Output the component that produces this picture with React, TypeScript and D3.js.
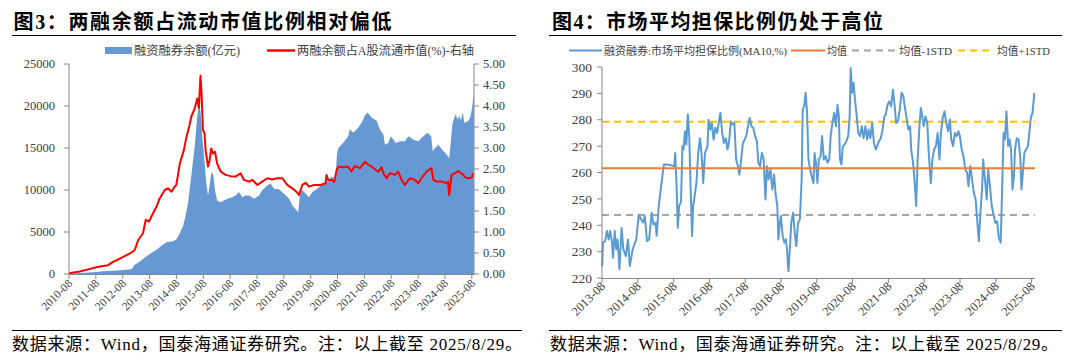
import React from "react";
import * as d3 from "d3";

// ---------- Left chart data ----------
const leftYearTicks = [2010, 2011, 2012, 2013, 2014, 2015, 2016, 2017, 2018, 2019, 2020, 2021, 2022, 2023, 2024, 2025];
const leftTicksBalance = [0, 5000, 10000, 15000, 20000, 25000];
const leftTicksRatio = [0, 0.5, 1, 1.5, 2, 2.5, 3, 3.5, 4, 4.5, 5];

// [decimal year, 融资融券余额(亿元)]
const marginBalance: [number, number][] = [
  [2010.58, 50], [2010.98, 120], [2011.3, 180], [2011.6, 240], [2011.85, 330], [2012.22, 400],
  [2012.6, 480], [2012.91, 560], [2013.03, 1090], [2013.22, 1490], [2013.47, 2100], [2013.65, 2500],
  [2013.84, 2900], [2014.09, 3500], [2014.21, 3790], [2014.46, 3900], [2014.58, 4100], [2014.7, 4800],
  [2014.83, 5700], [2014.93, 7000], [2015.02, 8550], [2015.14, 11770], [2015.27, 15400], [2015.36, 18800],
  [2015.42, 20000], [2015.48, 19400], [2015.55, 16200], [2015.61, 14200], [2015.69, 10970], [2015.76, 9350],
  [2015.82, 10560], [2015.89, 12180], [2015.96, 11770], [2016.02, 9960], [2016.1, 8750], [2016.23, 8550],
  [2016.35, 8750], [2016.48, 8950], [2016.66, 9150], [2016.79, 9350], [2016.91, 9760], [2017.04, 9150],
  [2017.16, 9350], [2017.29, 9350], [2017.47, 8950], [2017.66, 9350], [2017.78, 9960], [2017.97, 10560],
  [2018.09, 10770], [2018.22, 10160], [2018.4, 10080], [2018.59, 9560], [2018.78, 8950], [2018.9, 8150],
  [2019.02, 7740], [2019.12, 7340], [2019.19, 9760], [2019.27, 9960], [2019.4, 9560], [2019.52, 9150],
  [2019.65, 9760], [2019.83, 10160], [2020.02, 10770], [2020.2, 11000], [2020.36, 11570], [2020.51, 11370],
  [2020.56, 14190], [2020.61, 15000], [2020.79, 15600], [2020.98, 16410], [2021.04, 17220], [2021.17, 16810],
  [2021.35, 17420], [2021.48, 18020], [2021.6, 18830], [2021.7, 19230], [2021.85, 18630], [2022.04, 18230],
  [2022.16, 17220], [2022.29, 16610], [2022.35, 15400], [2022.47, 15600], [2022.57, 16410], [2022.66, 16000],
  [2022.75, 15600], [2022.91, 15810], [2023.09, 15810], [2023.22, 16410], [2023.4, 16000], [2023.59, 15810],
  [2023.78, 16410], [2023.94, 16810], [2024.07, 16410], [2024.13, 14600], [2024.21, 15000], [2024.34, 15400],
  [2024.48, 14800], [2024.65, 14190], [2024.74, 13790], [2024.79, 15400], [2024.86, 17800], [2024.93, 18600],
  [2024.98, 19000], [2025.06, 18400], [2025.11, 18800], [2025.18, 18300], [2025.25, 19300], [2025.3, 18000],
  [2025.38, 18100], [2025.45, 18200], [2025.52, 18600], [2025.58, 19500], [2025.62, 20500], [2025.66, 21500],
];

// [decimal year, 两融余额占A股流通市值(%)]
const marginRatio: [number, number][] = [
  [2010.58, 0.02], [2010.98, 0.06], [2011.3, 0.11], [2011.6, 0.16], [2011.85, 0.19], [2012.04, 0.21],
  [2012.22, 0.29], [2012.4, 0.34], [2012.6, 0.41], [2012.91, 0.51], [2013.03, 0.57], [2013.16, 0.81],
  [2013.34, 0.97], [2013.44, 1.29], [2013.56, 1.25], [2013.71, 1.44], [2013.84, 1.6], [2013.96, 1.8],
  [2014.15, 2.0], [2014.27, 2.04], [2014.4, 1.96], [2014.52, 2.08], [2014.58, 2.12], [2014.71, 2.63],
  [2014.86, 2.95], [2014.96, 3.27], [2015.06, 3.51], [2015.14, 3.75], [2015.27, 3.95], [2015.36, 4.18],
  [2015.42, 3.95], [2015.48, 4.72], [2015.52, 4.3], [2015.57, 3.43], [2015.63, 3.35], [2015.67, 2.95],
  [2015.76, 2.56], [2015.82, 2.71], [2015.88, 2.99], [2015.94, 2.87], [2016.02, 2.91], [2016.1, 2.63],
  [2016.23, 2.44], [2016.41, 2.36], [2016.6, 2.33], [2016.79, 2.32], [2016.97, 2.4], [2017.1, 2.24],
  [2017.29, 2.2], [2017.41, 2.24], [2017.6, 2.12], [2017.78, 2.2], [2017.97, 2.28], [2018.15, 2.25],
  [2018.34, 2.28], [2018.53, 2.28], [2018.71, 2.12], [2018.9, 2.04], [2019.05, 1.96], [2019.15, 1.88],
  [2019.27, 2.12], [2019.4, 2.17], [2019.52, 2.08], [2019.71, 2.12], [2019.96, 2.12], [2020.14, 2.16],
  [2020.17, 2.36], [2020.24, 2.24], [2020.36, 2.24], [2020.46, 2.2], [2020.55, 2.48], [2020.63, 2.56],
  [2020.79, 2.54], [2020.98, 2.56], [2021.1, 2.44], [2021.23, 2.57], [2021.42, 2.52], [2021.6, 2.67],
  [2021.73, 2.6], [2021.85, 2.56], [2022.0, 2.48], [2022.1, 2.44], [2022.22, 2.54], [2022.29, 2.4],
  [2022.41, 2.28], [2022.53, 2.4], [2022.72, 2.36], [2022.84, 2.44], [2022.97, 2.24], [2023.09, 2.12],
  [2023.28, 2.28], [2023.47, 2.24], [2023.59, 2.16], [2023.71, 2.28], [2023.9, 2.44], [2024.08, 2.52],
  [2024.15, 2.24], [2024.28, 2.2], [2024.46, 2.2], [2024.65, 2.16], [2024.7, 2.2], [2024.74, 1.88],
  [2024.83, 2.36], [2024.96, 2.4], [2025.07, 2.45], [2025.23, 2.38], [2025.35, 2.3], [2025.49, 2.28],
  [2025.58, 2.3], [2025.65, 2.4],
];

// ---------- Right chart data ----------
const rightYearTicks = [2013, 2014, 2015, 2016, 2017, 2018, 2019, 2020, 2021, 2022, 2023, 2024, 2025];
const rightTicksValue = [220, 230, 240, 250, 260, 270, 280, 290, 300];
const meanValue = 261.6;
const meanMinusStd = 243.9;
const meanPlusStd = 279.2;

// [decimal year, 融资融券:市场平均担保比例(MA10,%)]
const collateralRatio: [number, number][] = [
  [2013.59, 224.5], [2013.61, 233.4], [2013.67, 234], [2013.72, 237.8], [2013.77, 234.6], [2013.81, 237.8],
  [2013.86, 234], [2013.89, 227.7], [2013.94, 237.8], [2013.98, 230.9], [2014.02, 234.6], [2014.07, 223.3],
  [2014.13, 239], [2014.18, 230.9], [2014.25, 228.3], [2014.31, 234.6], [2014.36, 224.5], [2014.44, 230.9],
  [2014.54, 234.6], [2014.61, 244], [2014.68, 242.2], [2014.73, 241], [2014.78, 243.5], [2014.84, 234],
  [2014.9, 234.6], [2014.97, 244.7], [2015.02, 240.3], [2015.08, 240.9], [2015.11, 236], [2015.16, 246],
  [2015.21, 252.3], [2015.27, 258.6], [2015.31, 263], [2015.4, 263], [2015.55, 262.6], [2015.6, 262.4],
  [2015.63, 267.4], [2015.67, 253.6], [2015.7, 239], [2015.74, 247.3], [2015.79, 249], [2015.83, 270],
  [2015.86, 268.7], [2015.9, 275.6], [2015.94, 270.6], [2015.98, 282], [2016.02, 273.8], [2016.06, 253.6],
  [2016.1, 235.9], [2016.13, 247.3], [2016.17, 251], [2016.22, 256], [2016.27, 267.4], [2016.32, 273],
  [2016.37, 266], [2016.41, 256], [2016.46, 267.4], [2016.53, 270], [2016.56, 280], [2016.61, 276.3],
  [2016.65, 278.8], [2016.7, 272.5], [2016.75, 277], [2016.8, 275], [2016.85, 279.4], [2016.89, 282.6],
  [2016.94, 275], [2016.99, 271.2], [2017.04, 273], [2017.09, 268.7], [2017.14, 272.5], [2017.18, 279.4],
  [2017.23, 278.2], [2017.28, 278.8], [2017.33, 264.9], [2017.38, 262.4], [2017.42, 259.2], [2017.47, 264.9],
  [2017.52, 271.2], [2017.57, 272.5], [2017.62, 274.4], [2017.66, 277.5], [2017.71, 280.7], [2017.76, 277.5],
  [2017.81, 276.9], [2017.86, 273.8], [2017.91, 271.9], [2017.95, 263.7], [2018.0, 262.4], [2018.05, 267.4],
  [2018.1, 264.9], [2018.15, 249.8], [2018.19, 262.4], [2018.24, 257.4], [2018.29, 261.1], [2018.34, 253.6],
  [2018.39, 259.2], [2018.43, 252.3], [2018.48, 247.3], [2018.51, 234.6], [2018.55, 240.9], [2018.58, 243.5],
  [2018.63, 235.9], [2018.68, 233.4], [2018.72, 234.6], [2018.75, 230.9], [2018.79, 222.6], [2018.83, 230.9],
  [2018.87, 240.9], [2018.92, 244.7], [2018.96, 238.4], [2019.01, 232.1], [2019.06, 240.9], [2019.11, 242.2],
  [2019.16, 257.4], [2019.19, 283.8], [2019.23, 285.1], [2019.27, 290.2], [2019.31, 283.2], [2019.35, 264.9],
  [2019.4, 261.1], [2019.45, 258], [2019.49, 256], [2019.52, 267.4], [2019.56, 263.7], [2019.6, 256],
  [2019.64, 264.9], [2019.69, 266.2], [2019.73, 273.8], [2019.78, 264.9], [2019.83, 266.2], [2019.88, 263.7],
  [2019.93, 264.9], [2019.97, 273.8], [2020.02, 278.8], [2020.07, 282.6], [2020.12, 277.5], [2020.16, 285.7],
  [2020.2, 281.3], [2020.23, 264.9], [2020.27, 263], [2020.31, 270], [2020.36, 270.6], [2020.41, 271.9],
  [2020.46, 273.8], [2020.5, 280.7], [2020.53, 299.6], [2020.57, 290.2], [2020.61, 294], [2020.65, 287.6],
  [2020.7, 281.3], [2020.74, 275], [2020.79, 273.8], [2020.84, 277.5], [2020.89, 273], [2020.94, 277.5],
  [2020.99, 272.5], [2021.03, 276.3], [2021.08, 273], [2021.13, 278.8], [2021.18, 271.2], [2021.23, 268.7],
  [2021.27, 270], [2021.32, 271.9], [2021.37, 273], [2021.42, 276.3], [2021.47, 281.3], [2021.51, 282],
  [2021.56, 285.7], [2021.61, 287], [2021.66, 285.1], [2021.71, 291.4], [2021.76, 285.1], [2021.8, 278.8],
  [2021.85, 279.4], [2021.9, 283.8], [2021.95, 290.2], [2022.0, 289], [2022.04, 285.1], [2022.09, 280.7],
  [2022.14, 276.3], [2022.19, 277.5], [2022.22, 268.7], [2022.26, 264.9], [2022.29, 261.1], [2022.33, 253.6],
  [2022.36, 247.3], [2022.4, 264.9], [2022.45, 277.5], [2022.49, 284.5], [2022.53, 281.3], [2022.57, 277.5],
  [2022.62, 281.3], [2022.67, 278.8], [2022.7, 270], [2022.74, 261.1], [2022.77, 256], [2022.81, 264.9],
  [2022.86, 268.7], [2022.91, 270], [2022.96, 275], [2023.01, 264.9], [2023.05, 275], [2023.1, 280.7],
  [2023.15, 283.2], [2023.2, 278.8], [2023.25, 275.6], [2023.3, 280.1], [2023.34, 272.5], [2023.39, 270],
  [2023.44, 275], [2023.49, 273.8], [2023.54, 275.6], [2023.58, 273.8], [2023.63, 268.7], [2023.68, 266.2],
  [2023.73, 261.1], [2023.78, 260], [2023.82, 254.8], [2023.87, 262.4], [2023.92, 257.4], [2023.97, 252.3],
  [2024.02, 249.8], [2024.07, 240.9], [2024.11, 234], [2024.16, 246], [2024.2, 253.6], [2024.23, 264.9],
  [2024.28, 257.4], [2024.33, 249.8], [2024.37, 261.1], [2024.42, 254.8], [2024.47, 247.3], [2024.53, 243.5],
  [2024.57, 240.9], [2024.62, 241.5], [2024.67, 235.2], [2024.72, 233.4], [2024.76, 253.6], [2024.8, 275],
  [2024.84, 272.5], [2024.88, 283.2], [2024.93, 270], [2024.97, 272.5], [2025.01, 268.7], [2025.05, 253.6],
  [2025.09, 258.6], [2025.12, 268.7], [2025.17, 273], [2025.22, 272.5], [2025.27, 264.9], [2025.3, 253.6],
  [2025.34, 260], [2025.38, 267.4], [2025.43, 268.7], [2025.48, 270], [2025.52, 275], [2025.56, 280.7],
  [2025.61, 282.6], [2025.66, 290.2],
];

const leftTitle = "图3：两融余额占流动市值比例相对偏低";
const rightTitle = "图4：市场平均担保比例仍处于高位";
const sourceText = "数据来源：Wind，国泰海通证券研究。注：以上截至 2025/8/29。";
const legendLeft = ["融资融券余额(亿元)", "两融余额占A股流通市值(%)-右轴"];
const legendRight = ["融资融券:市场平均担保比例(MA10,%)", "均值", "均值-1STD", "均值+1STD"];

const SERIF = '"Liberation Serif", "Times New Roman", "Noto Sans CJK SC", serif';
const TITLE_FONT = '"Liberation Serif", "Noto Sans CJK SC", sans-serif';
const AXIS = "#868686";
const TXT = "#404040";

const BLUE_AREA = "#6699d3";
const RED = "#ff0000";
const LINE_BLUE = "#5b9bd5";
const ORANGE = "#ed7d31";
const GREY = "#a5a5a5";
const YELLOW = "#ffc000";

const ym = (y: number) => y + 7 / 12;

export default function App() {
  // Left scales
  const lx = d3.scaleLinear().domain([ym(2010), ym(2025)]).range([69, 471.8]);
  const ly = d3.scaleLinear().domain([0, 25000]).range([274, 64]);
  const ly2 = d3.scaleLinear().domain([0, 5]).range([274, 64]);
  const area = d3
    .area<[number, number]>()
    .x((d) => lx(d[0]))
    .y0(ly(0))
    .y1((d) => ly(d[1]));
  const redLine = d3
    .line<[number, number]>()
    .x((d) => lx(d[0]))
    .y((d) => ly2(d[1]));
  const lRight = 474;

  // Right scales
  const rx = d3.scaleLinear().domain([ym(2013), ym(2025)]).range([602, 1031.6]);
  const ry = d3.scaleLinear().domain([220, 300]).range([278, 67]);
  const blueLine = d3
    .line<[number, number]>()
    .x((d) => rx(d[0]))
    .y((d) => ry(d[1]));
  const rRight = 1035;

  return (
    <div style={{ position: "absolute", left: 0, top: 0, width: 1080, height: 364, background: "#fff" }}>
      <svg width={1080} height={364} viewBox="0 0 1080 364" style={{ display: "block" }}>
        <rect x={0} y={0} width={1080} height={364} fill="#fff" />

        {/* ---------------- Titles ---------------- */}
        <text x={13.5} y={29} fontFamily={TITLE_FONT} fontWeight="bold" fontSize={20} fill="#000"
          textLength={378} lengthAdjust="spacing">{leftTitle}</text>
        <line x1={12} x2={516} y1={35.5} y2={35.5} stroke="#000" strokeWidth={1.2} />
        <text x={552} y={29} fontFamily={TITLE_FONT} fontWeight="bold" fontSize={20} fill="#000"
          textLength={331} lengthAdjust="spacing">{rightTitle}</text>
        <line x1={549} x2={1062} y1={35.5} y2={35.5} stroke="#000" strokeWidth={1.2} />

        {/* ---------------- Left legend ---------------- */}
        <rect x={105} y={47} width={27} height={7} fill={BLUE_AREA} />
        <text x={134} y={54.5} fontFamily={SERIF} fontSize={12} fill={TXT} textLength={106} lengthAdjust="spacingAndGlyphs">{legendLeft[0]}</text>
        <line x1={267} x2={295} y1={50.5} y2={50.5} stroke={RED} strokeWidth={2.5} />
        <text x={297} y={54.5} fontFamily={SERIF} fontSize={12} fill={TXT} textLength={177} lengthAdjust="spacingAndGlyphs">{legendLeft[1]}</text>

        {/* ---------------- Left chart ---------------- */}
        <path d={area(marginBalance) || ""} fill={BLUE_AREA} />
        <path d={redLine(marginRatio) || ""} fill="none" stroke={RED} strokeWidth={2} strokeLinejoin="round" />

        {/* left y axis */}
        <line x1={69} x2={69} y1={ly(25000)} y2={ly(0)} stroke={AXIS} strokeWidth={1} />
        {leftTicksBalance.map((t) => (
          <g key={"lb" + t}>
            <line x1={64} x2={69} y1={ly(t)} y2={ly(t)} stroke={AXIS} />
            <text x={55} y={ly(t)} dy="0.35em" textAnchor="end" fontFamily={SERIF} fontSize={12.5} fill={TXT}>{t}</text>
          </g>
        ))}
        {/* right y axis */}
        <line x1={lRight} x2={lRight} y1={ly2(5)} y2={ly2(0)} stroke={AXIS} strokeWidth={1} />
        {leftTicksRatio.map((t) => (
          <g key={"lr" + t}>
            <line x1={lRight} x2={lRight + 5} y1={ly2(t)} y2={ly2(t)} stroke={AXIS} />
            <text x={483} y={ly2(t)} dy="0.35em" textAnchor="start" fontFamily={SERIF} fontSize={12.5} fill={TXT}>{t.toFixed(2)}</text>
          </g>
        ))}
        {/* x axis */}
        <line x1={69} x2={lRight} y1={274.5} y2={274.5} stroke={AXIS} strokeWidth={1} />
        {leftYearTicks.map((yr) => (
          <g key={"lx" + yr}>
            <line x1={lx(ym(yr))} x2={lx(ym(yr))} y1={274.5} y2={279} stroke={AXIS} />
            <text transform={`translate(${lx(ym(yr)) + 4},${284}) rotate(-45)`} textAnchor="end"
              fontFamily={SERIF} fontSize={11.5} fill={TXT}>{`${yr}-08`}</text>
          </g>
        ))}

        {/* ---------------- Right legend ---------------- */}
        <line x1={569} x2={602} y1={50.5} y2={50.5} stroke={LINE_BLUE} strokeWidth={2} />
        <text x={604} y={54.5} fontFamily={SERIF} fontSize={11} fill={TXT} textLength={183} lengthAdjust="spacingAndGlyphs">{legendRight[0]}</text>
        <line x1={791} x2={825} y1={50.5} y2={50.5} stroke={ORANGE} strokeWidth={2} />
        <text x={827} y={54.5} fontFamily={SERIF} fontSize={11} fill={TXT} textLength={20} lengthAdjust="spacingAndGlyphs">{legendRight[1]}</text>
        <line x1={852} x2={897} y1={50.5} y2={50.5} stroke={GREY} strokeWidth={2} strokeDasharray="7,5" />
        <text x={899} y={54.5} fontFamily={SERIF} fontSize={11} fill={TXT} textLength={53} lengthAdjust="spacingAndGlyphs">{legendRight[2]}</text>
        <line x1={958} x2={994} y1={50.5} y2={50.5} stroke={YELLOW} strokeWidth={2} strokeDasharray="7,5" />
        <text x={997} y={54.5} fontFamily={SERIF} fontSize={11} fill={TXT} textLength={53} lengthAdjust="spacingAndGlyphs">{legendRight[3]}</text>

        {/* ---------------- Right chart ---------------- */}
        <line x1={602} x2={rRight} y1={ry(meanPlusStd)} y2={ry(meanPlusStd)} stroke={YELLOW} strokeWidth={2} strokeDasharray="7,5" />
        <line x1={602} x2={rRight} y1={ry(meanMinusStd)} y2={ry(meanMinusStd)} stroke={GREY} strokeWidth={2} strokeDasharray="7,5" />
        <path d={blueLine(collateralRatio) || ""} fill="none" stroke={LINE_BLUE} strokeWidth={2} strokeLinejoin="round" />
        <line x1={602} x2={rRight} y1={ry(meanValue)} y2={ry(meanValue)} stroke={ORANGE} strokeWidth={2} />

        {/* y axis */}
        <line x1={602} x2={602} y1={ry(300)} y2={ry(220)} stroke={AXIS} />
        {rightTicksValue.map((t) => (
          <g key={"ry" + t}>
            <line x1={597} x2={602} y1={ry(t)} y2={ry(t)} stroke={AXIS} />
            <text x={592} y={ry(t)} dy="0.35em" textAnchor="end" fontFamily={SERIF} fontSize={13.5} fill={TXT}>{t}</text>
          </g>
        ))}
        {/* x axis */}
        <line x1={602} x2={rRight} y1={ry(220) + 0.5} y2={ry(220) + 0.5} stroke={AXIS} />
        {rightYearTicks.map((yr) => (
          <g key={"rx" + yr}>
            <line x1={rx(ym(yr))} x2={rx(ym(yr))} y1={ry(220)} y2={ry(220) + 5} stroke={AXIS} />
            <text transform={`translate(${rx(ym(yr)) + 4},${ry(220) + 9}) rotate(-45)`} textAnchor="end"
              fontFamily={SERIF} fontSize={12.5} fill={TXT}>{`${yr}-08`}</text>
          </g>
        ))}

        {/* ---------------- Footers ---------------- */}
        <line x1={12} x2={522} y1={330.5} y2={330.5} stroke="#000" strokeWidth={1.2} />
        <text x={12} y={350} fontFamily={SERIF} fontSize={17} fill="#000" textLength={510} lengthAdjust="spacing">{sourceText}</text>
        <line x1={549} x2={1062} y1={330.5} y2={330.5} stroke="#000" strokeWidth={1.2} />
        <text x={550} y={350} fontFamily={SERIF} fontSize={17} fill="#000" textLength={508} lengthAdjust="spacing">{sourceText}</text>
      </svg>
    </div>
  );
}
